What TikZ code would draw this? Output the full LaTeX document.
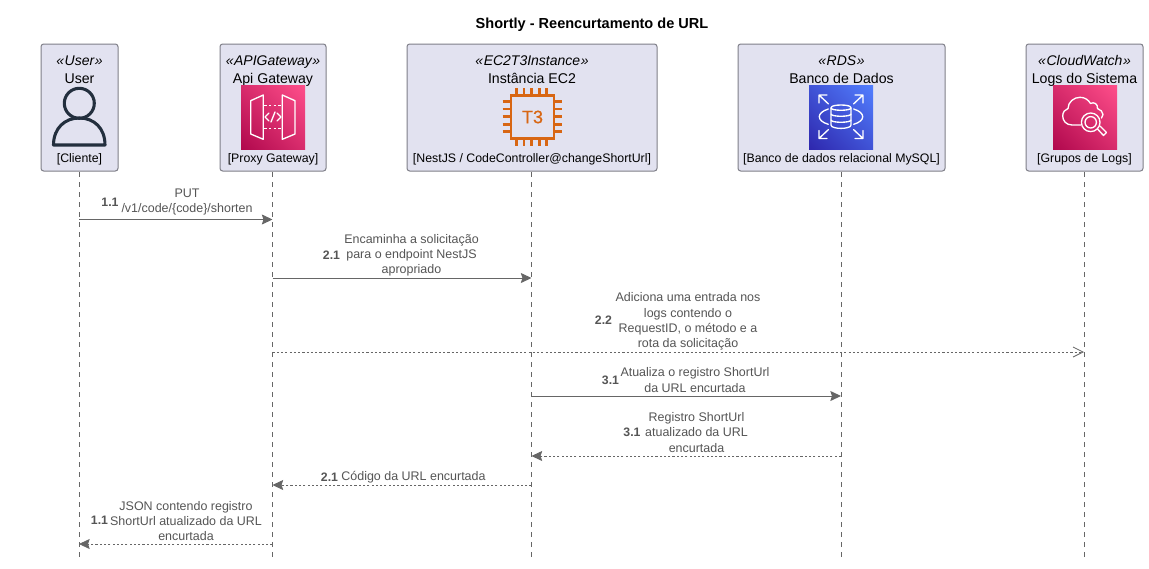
\documentclass[tikz,border=0pt]{standalone}
\usepackage{fontspec}
\setmainfont{Liberation Sans}
\usetikzlibrary{arrows.meta,shadings}
\definecolor{boxfill}{HTML}{E2E2F0}
\definecolor{boxline}{HTML}{7F7F88}
\definecolor{seqline}{HTML}{666666}
\definecolor{seqtext}{HTML}{555555}
\definecolor{usericon}{HTML}{232F3E}
\definecolor{ecicon}{HTML}{D86613}
\definecolor{pinklo}{HTML}{B0084D}
\definecolor{pinkmid}{HTML}{D82C6C}
\definecolor{pinkhi}{HTML}{FF4F8B}
\definecolor{bluelo}{HTML}{2E27AD}
\definecolor{bluemid}{HTML}{4053D6}
\definecolor{bluehi}{HTML}{527FFF}
\tikzset{
  pbox/.style={draw=boxline,fill=boxfill,line width=0.75pt,rounded corners=2pt,inner sep=0pt,minimum height=95.25pt},
  stereo/.style={font=\fontsize{10.5}{12}\selectfont\itshape,anchor=base,inner sep=0pt,text=black},
  pname/.style={font=\fontsize{10.6}{12}\selectfont,anchor=base,inner sep=0pt,text=black},
  ptag/.style={font=\fontsize{9.25}{11}\selectfont,anchor=base,inner sep=0pt,text=black},
  lifeline/.style={draw=seqline,line width=0.5pt,dash pattern=on 3.75pt off 3.75pt},
  msgsolid/.style={draw=seqline,line width=0.75pt,-{Stealth[length=8pt,width=7.5pt,inset=1.2pt,fill=seqline]}},
  msgdash/.style={draw=seqline,line width=0.6pt,dash pattern=on 1.6pt off 1.6pt,-{Stealth[length=8pt,width=7.5pt,inset=1.2pt,fill=seqline,sep=0pt]}},
  msgopen/.style={draw=seqline,line width=0.6pt,dash pattern=on 1.6pt off 1.6pt,-{Straight Barb[length=7.5pt,width=7.5pt,line width=0.6pt]}},
  msgtext/.style={font=\fontsize{9.35}{11.4}\selectfont,text=seqtext,align=center,inner sep=0pt},
  msgnum/.style={font=\fontsize{9.2}{11}\selectfont\bfseries,text=seqtext,inner sep=0pt},
  titletext/.style={font=\fontsize{10.9}{12}\selectfont\bfseries,text=black,inner sep=0pt},
  iconline/.style={draw=white,line width=1pt,line cap=round,line join=round},
  pinkicon/.style={lower left=pinklo,upper right=pinkhi,upper left=pinkmid,lower right=pinkmid},
  blueicon/.style={lower left=bluelo,upper right=bluehi,upper left=bluemid,lower right=bluemid}
}
\begin{document}
\begin{tikzpicture}[x=0.75pt,y=-0.75pt]
\useasboundingbox[fill=white] (0,0) rectangle (1149,568);

\node[titletext] (title) at (592,25) {Shortly - Reencurtamento de URL};

% lifelines are drawn first so that the boxes cover them
\coordinate (la) at (79,172);
\coordinate (lb) at (272.5,172);
\coordinate (lc) at (531.5,172);
\coordinate (ld) at (841,172);
\coordinate (le) at (1084,172);
\draw[lifeline] (la) -- (la |- 0,557);
\draw[lifeline] (lb) -- (lb |- 0,557);
\draw[lifeline] (lc) -- (lc |- 0,557);
\draw[lifeline] (ld) -- (ld |- 0,557);
\draw[lifeline] (le) -- (le |- 0,557);

% participants
\node[pbox,minimum width=57.75pt] (a) at (79.5,107.5) {};
\node[pbox,minimum width=79.5pt] (b) at (273,107.5) {};
\node[pbox,minimum width=187.5pt] (c) at (532,107.5) {};
\node[pbox,minimum width=155.25pt] (d) at (841.5,107.5) {};
\node[pbox,minimum width=87.75pt] (e) at (1084.5,107.5) {};

\node[stereo] (as) at (79.5,65) {«\kern0.4pt User\kern0.4pt »};
\node[pname] (an) at (79.5,83) {User};
\node[ptag] (at) at (79.5,162) {[Cliente]};
\node[stereo] (bs) at (273,65) {«\kern0.4pt APIGateway\kern0.4pt »};
\node[pname] (bn) at (273,83) {Api Gateway};
\node[ptag] (bt) at (273,162) {[Proxy Gateway]};
\node[stereo] (cs) at (532,65) {«\kern0.4pt EC2T3Instance\kern0.4pt »};
\node[pname] (cn) at (532,83) {Instância EC2};
\node[ptag] (ct) at (532,162) {[NestJS / CodeController@changeShortUrl]};
\node[stereo] (ds) at (841.5,65) {«\kern0.4pt RDS\kern0.4pt »};
\node[pname] (dn) at (841.5,83) {Banco de Dados};
\node[ptag] (dt) at (841.5,162) {[Banco de dados relacional MySQL]};
\node[stereo] (es) at (1084.5,65) {«\kern0.4pt CloudWatch\kern0.4pt »};
\node[pname] (en) at (1084.5,83) {Logs do Sistema};
\node[ptag] (et) at (1084.5,162) {[Grupos de Logs]};

% user icon
\draw[usericon,line width=2.3pt] (79.3,103.3) circle[radius=15];
\draw[usericon,line width=2.3pt,line join=round] (53.5,145) .. controls (53.5,128) and (65,118) .. (79.3,118) .. controls (94,118) and (105,128) .. (105,145) -- cycle;

% API gateway icon
\shade[pinkicon] (241,85) rectangle (305,149);
\draw[iconline] (250.7,100.7) -- (263.3,95) -- (263.3,139.3) -- (250.7,134) -- cycle;
\draw[iconline] (282.3,95) -- (295,100.7) -- (295,134) -- (282.3,139.3) -- cycle;
\draw[iconline,dash pattern=on 2pt off 1.6pt,line cap=butt] (264,105.7) -- (282,105.7);
\draw[iconline,dash pattern=on 2pt off 1.6pt,line cap=butt] (264,128.7) -- (282,128.7);
\draw[iconline] (269,113) -- (265,117) -- (269,121);
\draw[iconline] (277,113) -- (281,117) -- (277,121);
\draw[iconline] (275,112) -- (271,122);

% EC2 icon
\draw[ecicon,line width=1.9pt] (511,95.7) rectangle (554,138.3);
\foreach \px in {516.7,524,531.7,539.3,546.7} {
  \draw[ecicon,line width=1.9pt] (\px,88) -- (\px,95.7);
  \draw[ecicon,line width=1.9pt] (\px,138.3) -- (\px,146);
}
\foreach \py in {101.7,109,116.7,124.3,131.7} {
  \draw[ecicon,line width=1.9pt] (502.7,\py) -- (511,\py);
  \draw[ecicon,line width=1.9pt] (554,\py) -- (561.7,\py);
}
\node[font=\fontsize{13.5}{16}\selectfont\addfontfeature{FakeBold=0.6},text=ecicon,inner sep=0pt] (t3) at (532.5,117) {T3};

% RDS icon
\shade[blueicon] (809,85) rectangle (873,149);
\draw[iconline] (831,108) -- (831,125) .. controls (831,129.5) and (851,129.5) .. (851,125) -- (851,108);
\draw[iconline] (841,105) .. controls (835,105) and (831,106) .. (831,108) .. controls (831,111) and (851,111) .. (851,108) .. controls (851,106) and (847,105) .. (841,105) -- cycle;
\draw[iconline] (831,114) .. controls (831,117) and (851,117) .. (851,114);
\draw[iconline] (831,120) .. controls (831,123) and (851,123) .. (851,120);
\draw[iconline] (828.3,109) .. controls (822,111) and (819.3,114) .. (819.3,116.7) .. controls (819.3,119.5) and (822,122.5) .. (828.3,124.3);
\draw[iconline] (853.7,109) .. controls (860,111) and (862.7,114) .. (862.7,116.7) .. controls (862.7,119.5) and (860,122.5) .. (853.7,124.3);
\draw[iconline] (828.5,104) -- (819,95) (819,103) -- (819,95) -- (827,95);
\draw[iconline] (853.5,104) -- (863,95) (863,103) -- (863,95) -- (855,95);
\draw[iconline] (828.5,129.5) -- (819,138.5) (819,130.5) -- (819,138.5) -- (827,138.5);
\draw[iconline] (853.5,129.5) -- (863,138.5) (863,130.5) -- (863,138.5) -- (855,138.5);

% CloudWatch icon
\shade[pinkicon] (1053,85) rectangle (1117,149);
\draw[iconline] (1080.7,125) -- (1072,125) .. controls (1066,125) and (1062.7,120.5) .. (1062.7,116) .. controls (1062.7,112) and (1065,109.5) .. (1068,108.5) .. controls (1068,102) and (1074,97.3) .. (1080,97.3) .. controls (1085,97.3) and (1088.5,100) .. (1090.5,103.5) .. controls (1094,101.5) and (1098,104) .. (1097.5,108.5) .. controls (1100.5,109.5) and (1103,112) .. (1103,114.5) .. controls (1103,116) and (1102.5,117) .. (1101.5,118);
\draw[iconline] (1090.7,122.3) circle[radius=9.3];
\draw[iconline] (1090.7,122.3) circle[radius=5.7];
\draw[iconline] (1097.5,129) -- (1103.5,135.5) -- (1106.5,132.5) -- (1100,126);

% messages
\draw[msgsolid] (la |- 0,219.5) -- (lb |- 0,219.5);
\node[msgnum] (n1) at (110,202) {1.1};
\node[msgtext] (m1) at (187,202) {PUT\\/v1/code/\{code\}/shorten};

\draw[msgsolid] (lb |- 0,278) -- (lc |- 0,278);
\node[msgnum] (n2) at (331.5,255) {2.1};
\node[msgtext] (m2) at (411.5,255.5) {Encaminha a solicitação\\para o endpoint NestJS\\apropriado};

\draw[msgopen] (lb |- 0,352) -- (le |- 0,352);
\node[msgnum] (n3) at (603.5,320) {2.2};
\node[msgtext] (m3) at (688,321.5) {Adiciona uma entrada nos\\logs contendo o\\RequestID, o método e a\\rota da solicitação};

\draw[msgsolid] (lc |- 0,396) -- (ld |- 0,396);
\node[msgnum] (n4) at (610.5,380) {3.1};
\node[msgtext] (m4) at (695,380) {Atualiza o registro ShortUrl\\da URL encurtada};

\draw[msgdash] (ld |- 0,456) -- (lc |- 0,456);
\node[msgnum] (n5) at (632,432) {3.1};
\node[msgtext] (m5) at (696.5,432.5) {Registro ShortUrl\\atualizado da URL\\encurtada};

\draw[msgdash] (lc |- 0,485) -- (lb |- 0,485);
\node[msgnum] (n6) at (329.5,477) {2.1};
\node[msgtext] (m6) at (413.5,477) {Código da URL encurtada};

\draw[msgdash] (lb |- 0,544) -- (la |- 0,544);
\node[msgnum] (n7) at (99.5,520.5) {1.1};
\node[msgtext] (m7) at (186,521) {JSON contendo registro\\ShortUrl atualizado da URL\\encurtada};
\end{tikzpicture}
\end{document}
